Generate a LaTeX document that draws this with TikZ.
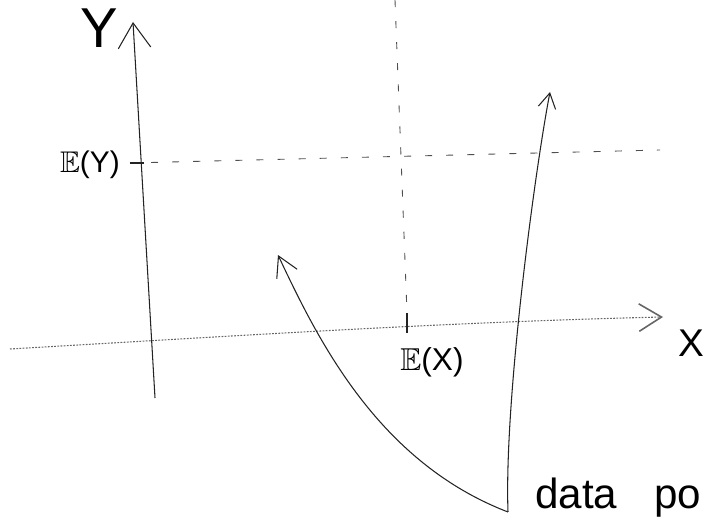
\documentclass[tikz,border=0pt]{standalone}
\usepackage{amssymb}
\usepackage{fontspec}
\setmainfont{Liberation Sans}
\usetikzlibrary{arrows.meta}
\definecolor{pencil}{RGB}{35,35,35}
\tikzset{
  hand/.style={pencil, line width=0.6pt},
  guide/.style={pencil!80, line width=0.5pt, dash pattern=on 4pt off 8pt},
  faint/.style={pencil!70, line width=0.6pt, dash pattern=on 1pt off 0.8pt}
}

\begin{document}
\begin{tikzpicture}[x=0.02cm,y=-0.02cm]
    \useasboundingbox (0,0) rectangle (703,519);
    % axes
    \coordinate (yfoot) at (155,398);
    \coordinate (ytip) at (133,22);
    \coordinate (xfoot) at (10,349);
    \coordinate (xtip) at (663,317);
    \draw[hand, -{Straight Barb[length=5mm,width=6.5mm]}] (yfoot) -- (ytip);
    \draw[faint, -{Straight Barb[length=4.5mm,width=5.5mm,line width=0.9pt]}] (xfoot) .. controls (250,335) and (450,322) .. (xtip);
    \node[font=\fontsize{32}{32}\selectfont] (ylab) at (99,28) {Y};
    \node[font=\fontsize{22}{22}\selectfont] (xlab) at (691,343) {X};
    % expectations
    \coordinate (eyl) at (130,163);
    \coordinate (eyr) at (660,150);
    \draw[guide] (eyl) -- (eyr);
    \draw[hand] (eyl) -- ++(14,0);
    \node[font=\fontsize{17}{17}\selectfont, anchor=east] (ey) at (126,165) {$\mathbb{E}$(Y)};
    \coordinate (extop) at (395,0);
    \coordinate (exmid) at (407,313);
    \coordinate (exfoot) at (407,333);
    \draw[guide] (extop) -- (exmid);
    \draw[hand] (exmid) -- (exfoot);
    \node[font=\fontsize{18}{18}\selectfont] (ex) at (432,362) {$\mathbb{E}$(X)};
    % data point
    \coordinate (dp) at (508,512);
    \coordinate (lefttip) at (278,255);
    \coordinate (righttip) at (550,92);
    \draw[hand, -{Straight Barb[length=4mm,width=4.5mm]}] (dp) .. controls (378,462) and (318,340) .. (lefttip);
    \draw[hand, -{Straight Barb[length=3mm,width=3.5mm]}] (dp) .. controls (504,400) and (535,170) .. (righttip);
    \node[font=\fontsize{24}{24}\selectfont, anchor=base west, inner sep=0pt] (dplab) at (535,509) {data\hspace{21pt}po};
\end{tikzpicture}
\end{document}
